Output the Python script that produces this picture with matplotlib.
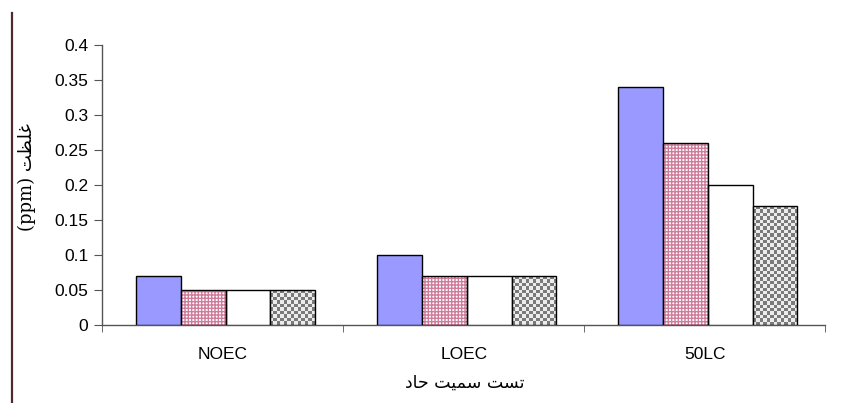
import numpy as np
import matplotlib.pyplot as plt
from matplotlib.colors import ListedColormap
from matplotlib.lines import Line2D

# Data
tests = ['NOEC', 'LOEC', '50LC']
series1 = [0.07, 0.10, 0.34]
series2 = [0.05, 0.07, 0.26]
series3 = [0.05, 0.07, 0.20]
series4 = [0.05, 0.07, 0.17]
yticks = [0, 0.05, 0.1, 0.15, 0.2, 0.25, 0.3, 0.35, 0.4]
ytick_labels = ['0', '0.05', '0.1', '0.15', '0.2', '0.25', '0.3', '0.35', '0.4']

# Persian labels, written as presentation forms in visual order
xlabel_fa = '\uFEA9\uFE8E\uFEA3 \uFE96\uFEF4\uFEE4\uFEB3 \uFE96\uFEB4\uFE97'   # تست سمیت حاد
ylabel_fa = '(ppm) \uFE96\uFEC8\uFEE0\uFECF'                                   # غلظت (ppm)

plt.rcParams['font.family'] = ['Liberation Sans', 'DejaVu Sans']

fig = plt.figure(figsize=(8.44, 4.03), dpi=100)
ax = fig.add_axes([0.121, 0.1935, 0.857, 0.6945])

x = np.arange(len(tests)) + 0.012
w = 0.186

ax.bar(x - 1.5 * w, series1, w, color='#9999ff', edgecolor='black', linewidth=1.0, zorder=3)

# pink small grid: hatch pass then black outline
ax.bar(x - 0.5 * w, series2, w, color='white', edgecolor='#cf7b9b', hatch='+++++',
       linewidth=0, zorder=3)
ax.bar(x - 0.5 * w, series2, w, fill=False, edgecolor='black', linewidth=1.0, zorder=4)

ax.bar(x + 0.5 * w, series3, w, color='white', edgecolor='black', linewidth=1.0, zorder=3)

bars4 = ax.bar(x + 1.5 * w, series4, w, color='white', edgecolor='none', zorder=3)
ax.bar(x + 1.5 * w, series4, w, fill=False, edgecolor='black', linewidth=1.0, zorder=5)

ax.set_xlim(-0.5, 2.5)
ax.set_ylim(0, 0.4)

# checkerboard texture for the fourth series
fig.canvas.draw()
checker = ListedColormap(['#ececec', '#7a7a7a'])
for b in bars4:
    x0, y0 = b.get_x(), b.get_y()
    bw, bh = b.get_width(), b.get_height()
    p0 = ax.transData.transform((x0, y0))
    p1 = ax.transData.transform((x0 + bw, y0 + bh))
    nx = max(1, int(round((p1[0] - p0[0]) / 3.4)))
    ny = max(1, int(round((p1[1] - p0[1]) / 3.4)))
    board = (np.add.outer(np.arange(ny), np.arange(nx)) % 2).astype(float)
    ax.imshow(board, cmap=checker, vmin=0, vmax=1,
              extent=(x0, x0 + bw, y0, y0 + bh), aspect='auto',
              interpolation='nearest', zorder=4)
ax.set_xlim(-0.5, 2.5)
ax.set_ylim(0, 0.4)

ax.set_yticks(yticks)
ax.set_yticklabels(ytick_labels, fontsize=12.5)
ax.set_xticks(np.arange(len(tests)))
ax.set_xticklabels(tests, fontsize=12.5)
ax.set_xticks([-0.5, 0.5, 1.5, 2.5], minor=True)
ax.tick_params(axis='x', which='major', length=0, pad=16)
ax.tick_params(axis='x', which='minor', length=5, direction='out', color='#555555')
ax.tick_params(axis='y', length=6, direction='out', color='#555555', pad=4)

for s in ['top', 'right']:
    ax.spines[s].set_visible(False)
for s in ['left', 'bottom']:
    ax.spines[s].set_color('#555555')
    ax.spines[s].set_linewidth(1.0)

fig.text(0.551, 0.05, xlabel_fa, ha='center', va='center', fontsize=12.5,
         family=['DejaVu Sans'])
fig.text(0.032, 0.56, ylabel_fa, ha='center', va='center', rotation=90, fontsize=13,
         family=['DejaVu Serif', 'DejaVu Sans'])

# dark vertical rule at the left edge
fig.add_artist(Line2D([12 / 844, 12 / 844], [0, 1 - 13 / 403], transform=fig.transFigure,
                      color='#4a2c2c', linewidth=1.6))

fig.savefig('out.png', dpi=100)
